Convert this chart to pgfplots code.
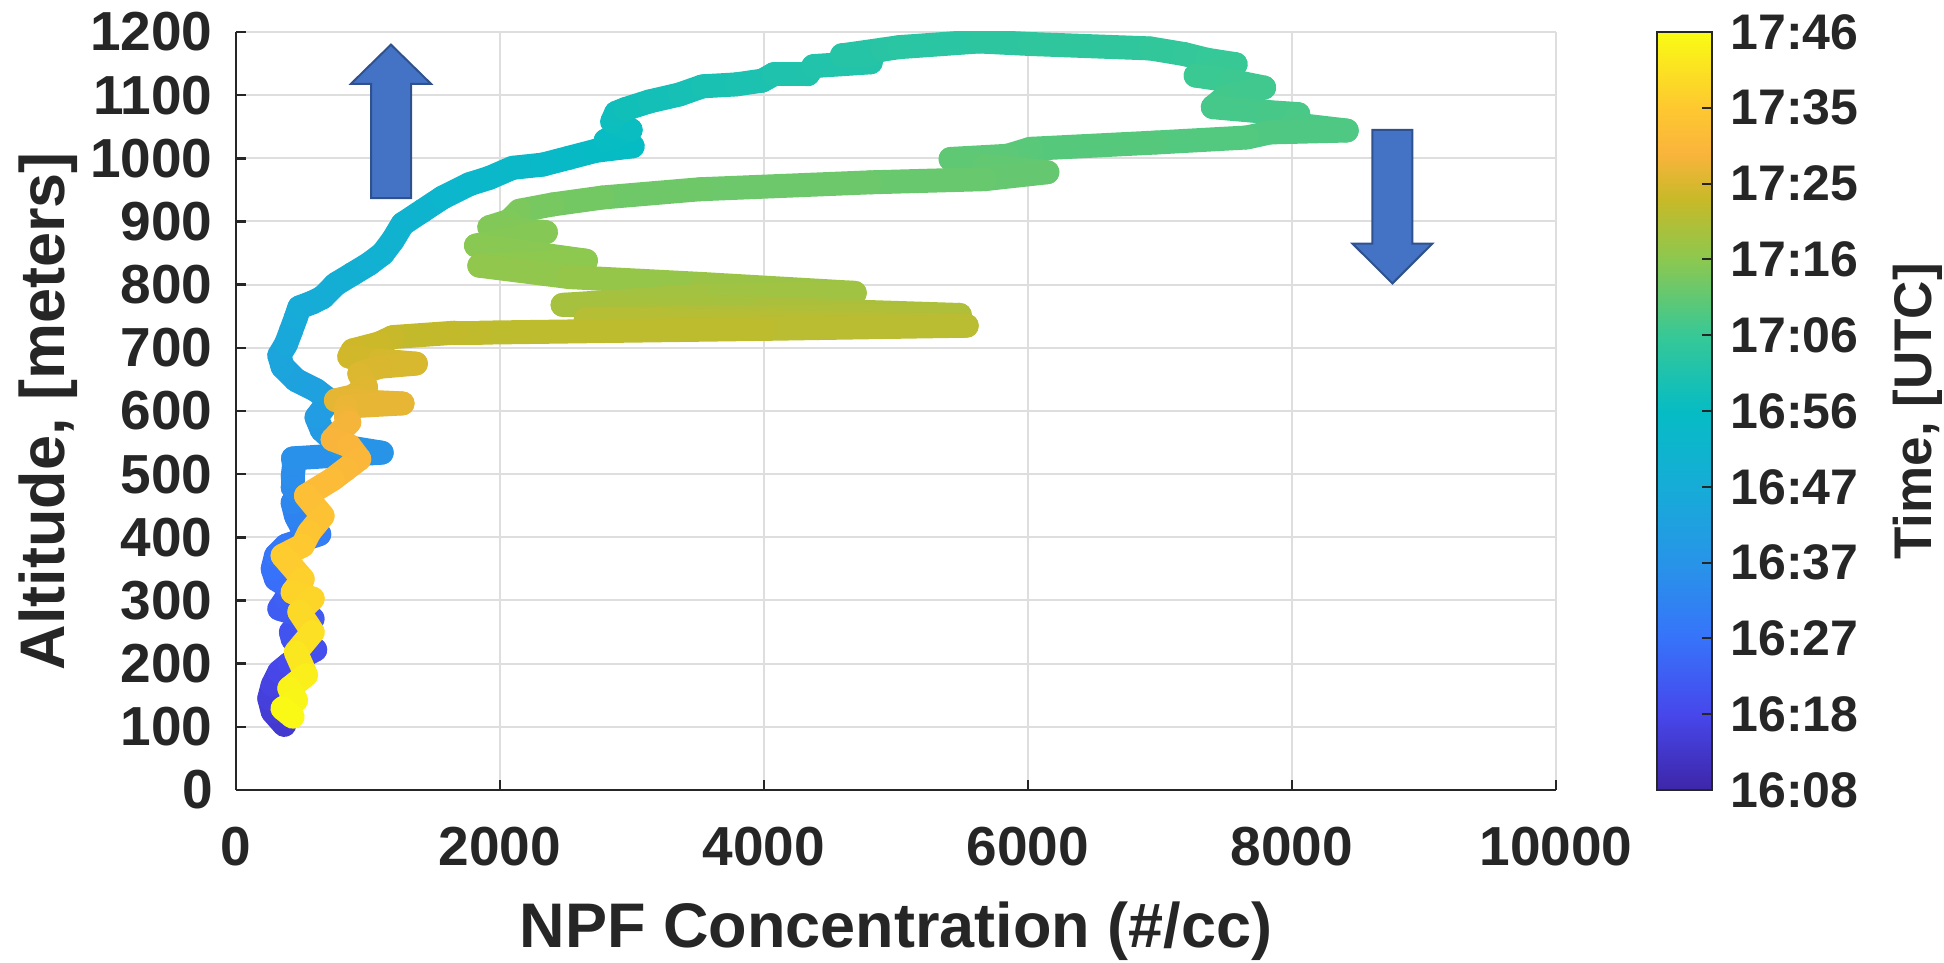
\documentclass[border=0pt]{standalone}
\usepackage{pgfplots}
\pgfplotsset{compat=1.18}
\usepackage{fontspec}
\setmainfont{Liberation Sans}
\definecolor{axgray}{RGB}{38,38,38}
\definecolor{arrowfill}{RGB}{68,114,196}
\definecolor{arrowedge}{RGB}{47,82,143}
\pgfplotsset{colormap={parula}{rgb255(0pt)=(62,38,168) rgb255(10pt)=(71,71,235) rgb255(20pt)=(55,115,250) rgb255(30pt)=(40,148,232) rgb255(40pt)=(22,172,215) rgb255(50pt)=(6,188,196) rgb255(60pt)=(55,200,150) rgb255(70pt)=(140,200,80) rgb255(78pt)=(200,185,40) rgb255(84pt)=(250,180,60) rgb255(90pt)=(254,200,48) rgb255(100pt)=(249,251,20)}}
\pgfplotstableread[row sep=\\]{
x y t\\
366 103 5\\ 278 124 6\\ 252 145 7\\ 278 166 8\\ 328 187 9\\ 404 200 10\\ 600 222 11\\ 430 239 12\\
416 250 12.5\\ 555 261 13\\ 580 271 13.5\\ 404 282 14\\ 328 287 14.5\\ 379 303 15\\ 505 313 16\\
379 324 17\\ 303 334 18\\ 278 350 19\\ 303 371 20\\ 379 387 21\\ 631 405 22\\ 505 413 23\\
454 434 24\\ 429 455 25\\ 480 468 26\\ 429 479 26.5\\ 429 495 27\\ 440 515 27.5\\ 432 525 28\\
1104 534 29\\ 780 545 30\\ 650 570 31\\ 610 590 32\\ 707 617 33\\ 606 633 34\\ 454 649 35\\
353 670 35.5\\ 328 688 36\\ 379 706 37\\ 417 727 37.5\\ 454 748 38\\ 480 764 38.5\\ 581 772 39\\
657 780 39.5\\ 757 801 40\\ 884 817 40.7\\ 1010 833 41.3\\ 1111 849 42\\ 1187 870 42.5\\
1262 896 43\\ 1414 917 44\\ 1566 938 44.7\\ 1767 959 45.4\\ 1919 969 46\\ 2096 985 46.5\\
2323 990 47\\ 2525 1001 47.5\\ 2727 1012 48\\ 3005 1019 48.5\\ 2800 1028 49\\ 2990 1045 49.5\\
2850 1058 50\\ 2880 1072 50.5\\ 2950 1078 51\\ 3131 1090 51.5\\ 3358 1101 52\\ 3535 1114 52.5\\
3788 1117 53\\ 3987 1123 53.3\\ 4073 1133 53.6\\ 4332 1133 54\\ 4375 1146 54.3\\ 4807 1152 54.7\\
4807 1163 55\\ 4591 1163 55.3\\ 4894 1172 55.6\\ 5024 1176 56\\ 5629 1185 56.5\\ 6017 1181 57\\
6925 1174 57.5\\ 7184 1165 58\\ 7357 1156 58.3\\ 7573 1149 58.6\\ 7270 1131 59\\ 7530 1123 59.3\\
7789 1112 59.6\\ 7487 1096 60\\ 7400 1081 60.3\\ 7832 1073 60.6\\ 8048 1070 60.8\\ 8005 1054 61\\
8415 1044 61.3\\ 7832 1041 61.6\\ 7659 1033 61.9\\ 6968 1025 62.2\\ 6017 1015 62.6\\ 5845 1004 63\\
5413 999 63.3\\ 5672 988 63.6\\ 6147 978 64\\ 5672 967 64.3\\ 4807 962 64.7\\ 3512 951 65.1\\
2778 938 65.5\\ 2399 927 66\\ 2146 917 66.5\\ 2071 901 67\\ 1919 891 67.3\\ 2348 883 67.6\\
1818 862 68\\ 2651 838 68.5\\ 1843 830 69\\ 2525 812 69.5\\ 3535 801 70\\ 4688 787 71\\
3500 782 71.4\\ 2474 768 71.8\\ 4000 762 72.3\\ 5484 752 72.8\\ 2650 746 73.5\\ 5536 735 74.3\\
4000 730 74.8\\ 1851 724 75.3\\ 1660 724 75.6\\ 1187 717 76\\ 1086 707 76.5\\ 884 696 77\\
858 686 77.3\\ 1086 680 77.6\\ 1363 675 78\\ 1086 670 78.3\\ 934 659 78.6\\ 985 638 79\\
884 623 79.4\\ 757 617 79.7\\ 1262 612 80\\ 833 607 80.4\\ 833 591 80.8\\ 858 582 81.2\\
732 555 82\\ 858 545 82.5\\ 934 524 83\\ 833 508 83.6\\ 732 492 84.2\\ 530 466 85\\
656 434 86\\ 555 408 87\\ 505 387 87.7\\ 353 371 88.5\\ 505 334 89.5\\ 429 313 90\\
581 303 90.5\\ 480 282 91\\ 581 250 92\\ 454 218 93.5\\ 530 182 95\\ 404 161 96\\
454 142 96.8\\ 353 129 97.4\\ 429 116 98\\
}\flight
\begin{document}
\begin{tikzpicture}
\useasboundingbox (-118pt,-86.5pt) rectangle (854pt,395pt);
\begin{axis}[
  scale only axis, width=660pt, height=379pt,
  xmin=0, xmax=10000, ymin=0, ymax=1200,
  scaled x ticks=false, scaled y ticks=false,
  axis x line*=bottom, axis y line*=left,
  axis line style={draw=axgray, line width=1.2pt},
  tick align=inside, major tick length=5pt,
  tick style={draw=axgray, line width=1.2pt},
  xtick={0,2000,4000,6000,8000,10000},
  xticklabels={0,2000,4000,6000,8000,10000},
  ytick={0,100,200,300,400,500,600,700,800,900,1000,1100,1200},
  yticklabels={0,100,200,300,400,500,600,700,800,900,1000,1100,1200},
  grid=major, major grid style={draw=black!13, line width=1pt},
  ticklabel style={font=\fontsize{27.5}{30}\selectfont\bfseries, text=axgray, inner sep=0pt},
  xticklabel style={anchor=north, yshift=-18.5pt},
  yticklabel style={anchor=east, xshift=-11.5pt},
  xlabel={NPF Concentration (\#/cc)},
  ylabel={Altitude, [meters]},
  label style={font=\fontsize{31.5}{34}\selectfont\bfseries, text=axgray, inner sep=0pt},
  xlabel style={at={(axis description cs:0.5,-0.20844)}, anchor=base},
  ylabel style={at={(axis description cs:-0.16515,0.5)}, anchor=north},
  colormap name=parula, point meta min=0, point meta max=98,
  colorbar, colorbar/width=27.5pt,
  colorbar style={
    scale only axis, width=27.5pt, height=379pt,
    at={(parent axis.north east)}, anchor=north west, xshift=42pt,
    axis line style={draw=axgray, line width=1pt},
    ytick={0,9.8,19.6,29.4,39.2,49,58.8,68.6,78.4,88.2,98},
    yticklabels={16:08,16:18,16:27,16:37,16:47,16:56,17:06,17:16,17:25,17:35,17:46},
    yticklabel pos=right, ytick pos=right,
    tick align=inside, major tick length=5pt,
    tick style={draw=axgray, line width=1pt},
    yticklabel style={font=\fontsize{25}{28}\selectfont\bfseries, text=axgray, anchor=west, inner sep=0pt, xshift=9pt},
  },
]
\addplot[mesh, point meta=explicit, line width=12pt, line cap=round, line join=round] table[x=x, y=y, meta=t] {\flight};
\filldraw[fill=arrowfill, draw=arrowedge, line width=1pt] (1023,937) -- (1326,937) -- (1326,1118) -- (1477,1118) -- (1174,1180) -- (871,1118) -- (1023,1118) -- cycle;
\filldraw[fill=arrowfill, draw=arrowedge, line width=1pt] (8609,1045) -- (8912,1045) -- (8912,865) -- (9063,865) -- (8761,802) -- (8458,865) -- (8609,865) -- cycle;
\end{axis}
\node[rotate=90, anchor=north, inner sep=0pt, text=axgray, font=\fontsize{26.5}{30}\selectfont\bfseries] at (828.5pt,189.25pt) {Time, [UTC]};
\end{tikzpicture}
\end{document}
